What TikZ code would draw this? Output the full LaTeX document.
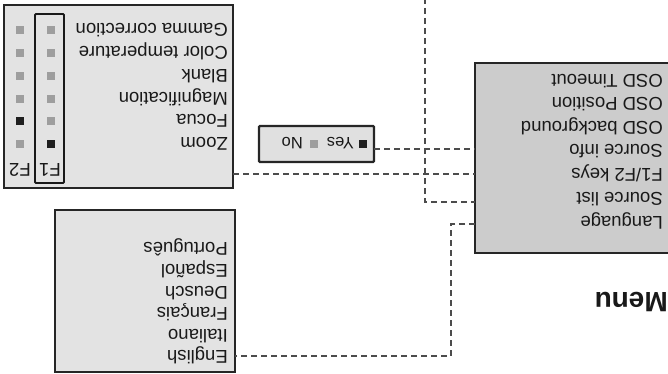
\documentclass[tikz,border=0pt]{standalone}
\usepackage{fontspec}
\setmainfont{Liberation Sans}
\begin{document}
\begin{tikzpicture}[x=1pt,y=-1pt,
  box/.style={draw=black!85,line width=2.2pt},
  lbl/.style={rotate=180,anchor=west,inner sep=0pt,text height=13pt,text depth=0pt,font=\fontsize{18.5}{20}\selectfont,text=black!90},
  sml/.style={lbl,font=\fontsize{16.5}{18}\selectfont,text height=12pt},
  sq/.style={rectangle,inner sep=0pt,minimum size=7.5pt},
  gsq/.style={sq,fill=black!38},
  bsq/.style={sq,fill=black!88},
  conn/.style={draw=black!70,line width=1.1pt,dash pattern=on 6pt off 4pt}]
\useasboundingbox (0,0) rectangle (668,374);
% boxes
\draw[box,fill=black!11] (4,5) rectangle (233,188);
\draw[box,fill=black!20] (475,63) rectangle (680,253);
\draw[box,fill=black!12,rounded corners=1pt] (259,126) rectangle (374,162);
\draw[box,fill=black!11] (55,210) rectangle (235,372);
\draw[line width=1.8pt,draw=black!90,rounded corners=1pt] (35,14) rectangle (64,183);
% F1/F2 box texts
\node[lbl] (gc) at (228,30) {Gamma correction};
\node[lbl] (ct) at (228,53) {Color temperature};
\node[lbl] (bl) at (228,76) {Blank};
\node[lbl] (mg) at (228,99) {Magnification};
\node[lbl] (fc) at (228,121) {Focua};
\node[lbl] (zm) at (228,144) {Zoom};
\node[lbl] (f1) at (61,170) {F1};
\node[lbl] (f2) at (31,170) {F2};
\foreach \y/\a/\b in {30/gsq/gsq,53/gsq/gsq,76/gsq/gsq,99/gsq/gsq,121/gsq/bsq,144/bsq/gsq}{
  \node[\a] at (51,\y) {};
  \node[\b] at (20,\y) {};
}
% menu box texts
\node[lbl] (ot) at (663,81) {OSD Timeout};
\node[lbl] (op) at (663,104) {OSD Position};
\node[lbl] (ob) at (663,128) {OSD background};
\node[lbl] (si) at (663,151) {Source info};
\node[lbl] (fk) at (663,175) {F1/F2 keys};
\node[lbl] (sl) at (663,199) {Source list};
\node[lbl] (la) at (663,223) {Language};
% language texts
\node[lbl] (en) at (228,357) {English};
\node[lbl] (it) at (228,336) {Italiano};
\node[lbl] (fr) at (228,314) {Français};
\node[lbl] (de) at (228,293) {Deusch};
\node[lbl] (es) at (228,271) {Español};
\node[lbl] (pt) at (228,249) {Português};
% yes/no
\node[bsq] (ys) at (363,144) {};
\node[sml] (yes) at (354,144) {Yes};
\node[gsq] (ns) at (314,144) {};
\node[sml] (no) at (303,144) {No};
% Menu title
\node[rotate=180,anchor=west,inner sep=0pt,font=\fontsize{28}{30}\bfseries\selectfont,text=black!90] (menu) at (668,302) {Menu};
% connectors
\coordinate (yb) at (374,149);
\coordinate (mb1) at (475,149);
\draw[conn] (yb) -- (mb1);
\coordinate (lb) at (233,174);
\coordinate (mb2) at (475,174);
\draw[conn] (lb) -- (mb2);
\coordinate (top) at (425,-2);
\coordinate (mb3) at (475,202);
\draw[conn] (top) |- (mb3);
\coordinate (mb4) at (475,224);
\coordinate (lg) at (235,356);
\draw[conn] (mb4) -| (451,356) -- (lg);
\end{tikzpicture}
\end{document}
